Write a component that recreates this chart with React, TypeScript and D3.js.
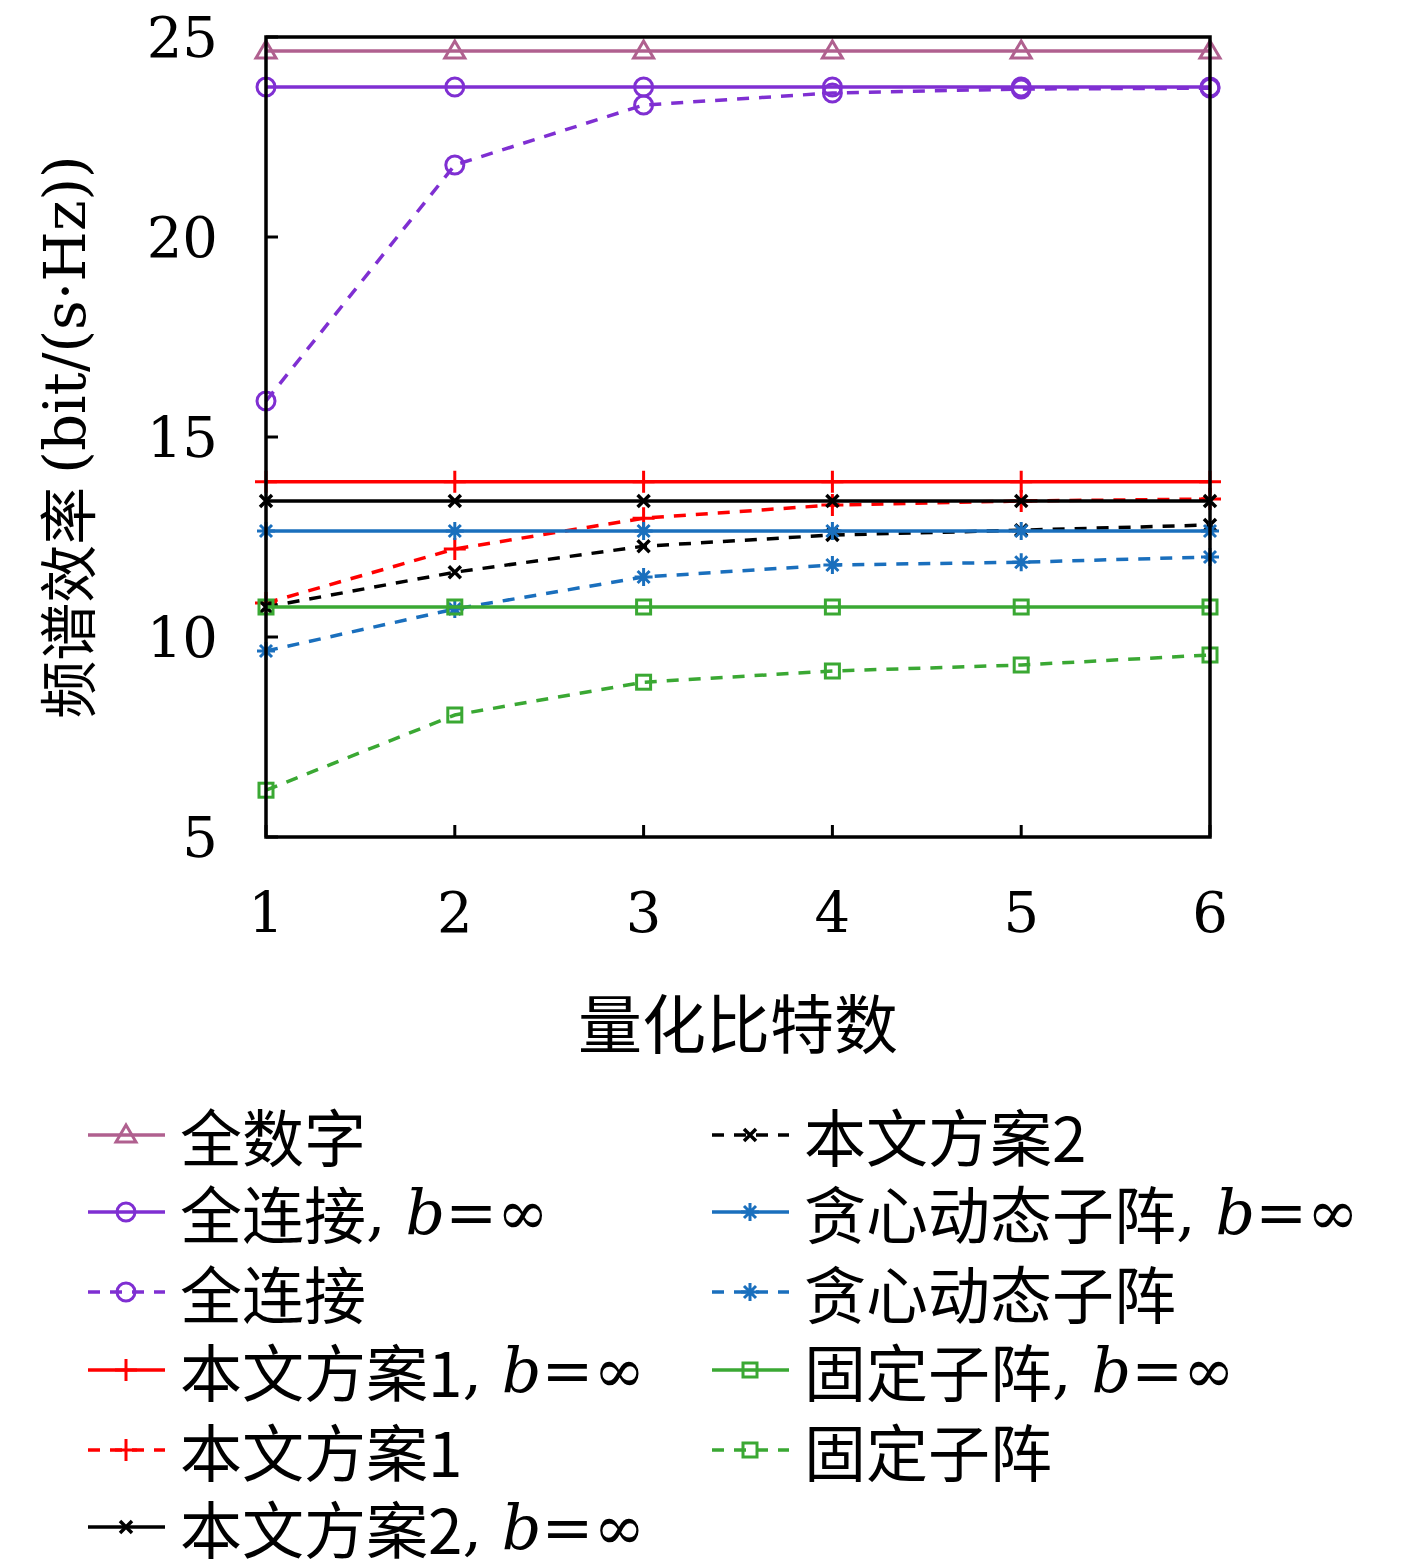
import * as d3 from 'd3';

const bits = [1, 2, 3, 4, 5, 6];
const fullDigital = [24.65, 24.65, 24.65, 24.65, 24.65, 24.65];
const fullConnInf = [23.75, 23.75, 23.75, 23.75, 23.75, 23.75];
const fullConn = [15.9, 21.8, 23.3, 23.6, 23.7, 23.72];
const scheme1Inf = [13.88, 13.88, 13.88, 13.88, 13.88, 13.88];
const scheme1 = [10.85, 12.2, 12.97, 13.3, 13.4, 13.45];
const scheme2Inf = [13.4, 13.4, 13.4, 13.4, 13.4, 13.4];
const scheme2 = [10.75, 11.62, 12.27, 12.55, 12.67, 12.8];
const greedyInf = [12.65, 12.65, 12.65, 12.65, 12.65, 12.65];
const greedy = [9.65, 10.7, 11.5, 11.8, 11.87, 12.0];
const fixedInf = [10.75, 10.75, 10.75, 10.75, 10.75, 10.75];
const fixedSub = [6.17, 8.05, 8.87, 9.15, 9.3, 9.55];
const yTicks = [5, 10, 15, 20, 25];

type Marker = 'tri' | 'circle' | 'plus' | 'x' | 'star' | 'square';
interface Series { name: string; inf: boolean; values: number[]; color: string; marker: Marker; dashed: boolean }

const series: Series[] = [
  { name: '全数字', inf: false, values: fullDigital, color: '#b0608f', marker: 'tri', dashed: false },
  { name: '全连接', inf: true, values: fullConnInf, color: '#7f2fd2', marker: 'circle', dashed: false },
  { name: '全连接', inf: false, values: fullConn, color: '#7f2fd2', marker: 'circle', dashed: true },
  { name: '本文方案1', inf: true, values: scheme1Inf, color: '#ff0000', marker: 'plus', dashed: false },
  { name: '本文方案1', inf: false, values: scheme1, color: '#ff0000', marker: 'plus', dashed: true },
  { name: '本文方案2', inf: true, values: scheme2Inf, color: '#000000', marker: 'x', dashed: false },
  { name: '本文方案2', inf: false, values: scheme2, color: '#000000', marker: 'x', dashed: true },
  { name: '贪心动态子阵', inf: true, values: greedyInf, color: '#1a6fbd', marker: 'star', dashed: false },
  { name: '贪心动态子阵', inf: false, values: greedy, color: '#1a6fbd', marker: 'star', dashed: true },
  { name: '固定子阵', inf: true, values: fixedInf, color: '#3aa833', marker: 'square', dashed: false },
  { name: '固定子阵', inf: false, values: fixedSub, color: '#3aa833', marker: 'square', dashed: true },
];

const serif = '"DejaVu Serif", "Liberation Serif", serif';
const cjk = '"Noto Sans CJK SC", sans-serif';

function MarkerShape({ m, x, y, color }: { m: Marker; x: number; y: number; color: string }) {
  const p = { fill: 'none', stroke: color, strokeWidth: 3 };
  const s = 9;
  switch (m) {
    case 'tri':
      return <path d={`M${x},${y - 10}L${x + 10},${y + 7}L${x - 10},${y + 7}Z`} {...p} />;
    case 'circle':
      return <circle cx={x} cy={y} r={9} {...p} />;
    case 'plus':
      return <path d={`M${x - 11},${y}H${x + 11}M${x},${y - 11}V${y + 11}`} {...p} />;
    case 'x':
      return <path d={`M${x - 6},${y - 6}L${x + 6},${y + 6}M${x - 6},${y + 6}L${x + 6},${y - 6}`} {...p} strokeWidth={3.5} />;
    case 'star':
      return <path d={`M${x - s},${y}H${x + s}M${x},${y - s}V${y + s}M${x - 6},${y - 6}L${x + 6},${y + 6}M${x - 6},${y + 6}L${x + 6},${y - 6}`} {...p} />;
    case 'square':
      return <rect x={x - 7} y={y - 7} width={14} height={14} {...p} />;
  }
}

function Label({ s, x, y }: { s: Series; x: number; y: number }) {
  return (
    <text x={x} y={y} fontSize={62} dominantBaseline="central">
      <tspan fontFamily={cjk}>{s.name}</tspan>
      {s.inf && (
        <>
          <tspan fontFamily={serif}>, </tspan>
          <tspan fontFamily={serif} fontStyle="italic">b</tspan>
          <tspan fontFamily={serif}>=∞</tspan>
        </>
      )}
    </text>
  );
}

export default function App() {
  const x = d3.scaleLinear().domain([1, 6]).range([266, 1210]);
  const y = d3.scaleLinear().domain([5, 25]).range([837, 37]);
  const line = d3.line<number>().x((_, i) => x(bits[i])).y((d) => y(d));
  const leftCol = series.slice(0, 6);
  const rightCol = series.slice(6);
  const legendRows = [1135, 1212, 1292, 1370, 1450, 1527];

  const legendItem = (s: Series, lx: number, ly: number, k: string) => (
    <g key={k}>
      <line x1={lx} x2={lx + 77} y1={ly} y2={ly} stroke={s.color} strokeWidth={3.5} strokeDasharray={s.dashed ? '12 10' : undefined} />
      <MarkerShape m={s.marker} x={lx + 38} y={ly} color={s.color} />
      <Label s={s} x={lx + 92} y={ly} />
    </g>
  );

  return (
    <svg width={1417} height={1567} style={{ position: 'absolute', left: 0, top: 0 }}>
      <rect width={1417} height={1567} fill="#fff" />
      {series.map((s, i) => (
        <g key={i}>
          <path d={line(s.values) ?? ''} fill="none" stroke={s.color} strokeWidth={3.5} strokeDasharray={s.dashed ? '12 10' : undefined} />
          {s.values.map((v, j) => (
            <MarkerShape key={j} m={s.marker} x={x(bits[j])} y={y(v)} color={s.color} />
          ))}
        </g>
      ))}
      <rect x={266} y={37} width={944} height={800} fill="none" stroke="#000" strokeWidth={3.5} />
      {bits.map((b) => (
        <g key={b}>
          <line x1={x(b)} x2={x(b)} y1={837} y2={825} stroke="#000" strokeWidth={3} />
          <text x={x(b)} y={912} fontSize={56} fontFamily={serif} textAnchor="middle" dominantBaseline="central">{b}</text>
        </g>
      ))}
      {yTicks.map((t) => (
        <g key={t}>
          <line x1={266} x2={278} y1={y(t)} y2={y(t)} stroke="#000" strokeWidth={3} />
          <text x={218} y={y(t)} fontSize={56} fontFamily={serif} textAnchor="end" dominantBaseline="central">{t}</text>
        </g>
      ))}
      <text x={738} y={1020} fontSize={64} fontFamily={cjk} textAnchor="middle" dominantBaseline="central">量化比特数</text>
      <text transform="translate(65,437) rotate(-90)" fontSize={58} textAnchor="middle" dominantBaseline="central">
        <tspan fontFamily={cjk}>频谱效率 </tspan>
        <tspan fontFamily={serif}>(bit/(s·Hz))</tspan>
      </text>
      {leftCol.map((s, i) => legendItem(s, 88, legendRows[i], 'l' + i))}
      {rightCol.map((s, i) => legendItem(s, 712, legendRows[i], 'r' + i))}
    </svg>
  );
}
